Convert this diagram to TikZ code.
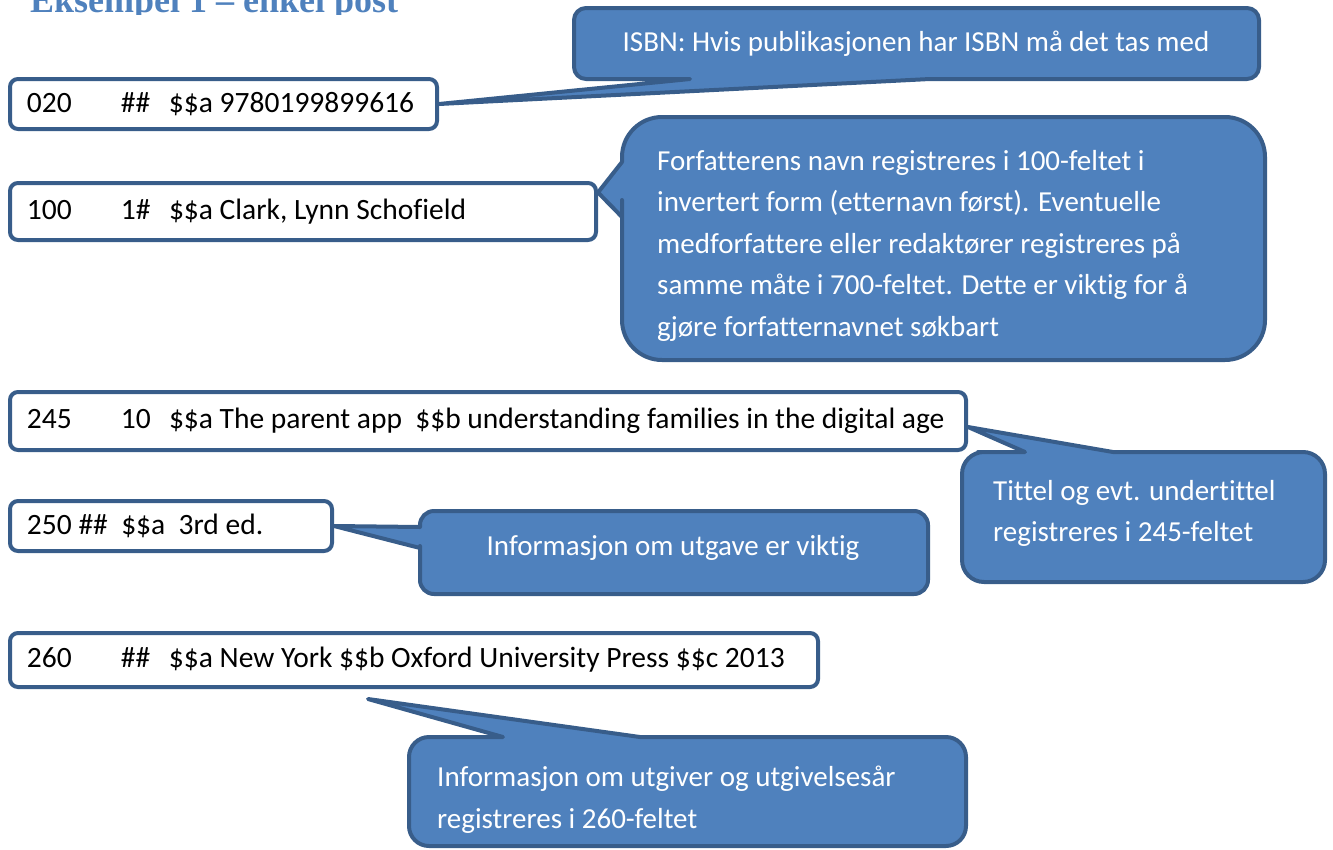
\documentclass[tikz,border=0pt]{standalone}
\usepackage{fontspec}
\setmainfont{Carlito}[Ligatures={TeX,NoCommon}]
\newfontfamily\headfont{Liberation Serif}

\definecolor{boxline}{RGB}{56,93,138}
\definecolor{notefill}{RGB}{79,129,189}
\definecolor{headblue}{RGB}{79,129,189}

\tikzset{
	field/.style={draw=boxline, line width=4pt, rounded corners=8pt, fill=white, inner xsep=17pt, inner ysep=0pt, font=\fontsize{29.5}{35}\selectfont},
	note/.style={text=white, inner sep=0pt, font=\fontsize{29}{41.5}\selectfont},
	callout/.style={draw=boxline, fill=notefill, line width=4pt, line join=round}}

\begin{document}
\begin{tikzpicture}[x=1pt,y=-1pt]
	\useasboundingbox (0,0) rectangle (1333,849);

	% Heading, cut at the top edge
	\begin{scope}
		\clip (0,0) rectangle (1333,14);
		\node [anchor=base west, inner sep=0pt, text=headblue, font=\headfont\bfseries\fontsize{36}{40}\selectfont] (title) at (30,12) {Eksempel 1 – enkel post};
	\end{scope}

	% Fields
	\node [field, minimum width=427, minimum height=50] (f020) at (223.5,104) {\makebox[393pt][l]{\makebox[94pt][l]{020}\makebox[48pt][l]{\#\#}\$\$a 9780199899616}};
	\node [field, minimum width=586, minimum height=57] (f100) at (303,211.5) {\makebox[552pt][l]{\makebox[94pt][l]{100}\makebox[48pt][l]{1\#}\$\$a Clark, Lynn Schofield}};
	\node [field, minimum width=956, minimum height=58] (f245) at (488,421) {\makebox[922pt][l]{\makebox[94pt][l]{245}\makebox[48pt][l]{10}\$\$a The parent app\ \ \$\$b understanding families in the digital age}};
	\node [field, minimum width=322, minimum height=50] (f250) at (171,526) {\makebox[288pt][l]{250 \#\#\ \ \$\$a\ \ 3rd ed.}};
	\node [field, minimum width=808, minimum height=54] (f260) at (414,660) {\makebox[774pt][l]{\makebox[94pt][l]{260}\makebox[48pt][l]{\#\#}\$\$a New York \$\$b Oxford University Press \$\$c 2013}};

	%Shape: Callout ISBN
	\draw [callout] (900,8) [rounded corners=12] -- (1259,8) -- (1259,79) -- (1000,79) [sharp corners] -- (930,79) -- (f020.east) -- (690,79) -- (640,79) [rounded corners=12] -- (574,79) -- (574,8) -- cycle;
	%Shape: Callout author
	\draw [callout] (900,117) [rounded corners=40] -- (1265,117) -- (1265,360) -- (622,360) -- (622,240) [sharp corners] -- (622,217) -- ([yshift=19pt]f100.east) -- (622,162) -- (622,158) [rounded corners=40] -- (622,117) -- cycle;
	%Shape: Callout title
	\draw [callout] (1200,452) [rounded corners=22] -- (1325,452) -- (1325,582) -- (962,582) -- (962,452) -- (1000,452) [sharp corners] -- (1025,452) -- ([yshift=-6pt]f245.east) -- (1113,452) -- (1150,452) [rounded corners=22] -- cycle;
	%Shape: Callout edition
	\draw [callout] (700,511) [rounded corners=14] -- (928,511) -- (928,594) -- (420,594) -- (420,560) [sharp corners] -- (420,548) -- (f250.east) -- (420,527) -- (420,526) [rounded corners=14] -- (420,511) -- cycle;
	%Shape: Callout publisher
	\draw [callout] (800,737) [rounded corners=20] -- (966,737) -- (966,846) -- (409,846) -- (409,737) -- (460,737) [sharp corners] -- (503,737) -- ([xshift=-46pt,yshift=-10pt]f260.south) -- (640,737) -- (680,737) [rounded corners=20] -- cycle;

	% Callout texts
	\node [note] (isbn) at (916,44) {ISBN: Hvis publikasjonen har ISBN må det tas med};
	\node [note, anchor=north west, align=left] (author) at (657,150) {Forfatterens navn registreres i 100-feltet i\\invertert form (etternavn først). Eventuelle\\medforfattere eller redaktører registreres på\\samme måte i 700-feltet. Dette er viktig for å\\gjøre forfatternavnet søkbart};
	\node [note, anchor=north west, align=left] (titlenote) at (993,480) {Tittel og evt. undertittel\\registreres i 245-feltet};
	\node [note] (edition) at (673,548) {Informasjon om utgave er viktig};
	\node [note, anchor=north west, align=left] (publisher) at (437,766) {Informasjon om utgiver og utgivelsesår\\registreres i 260-feltet};

\end{tikzpicture}
\end{document}
